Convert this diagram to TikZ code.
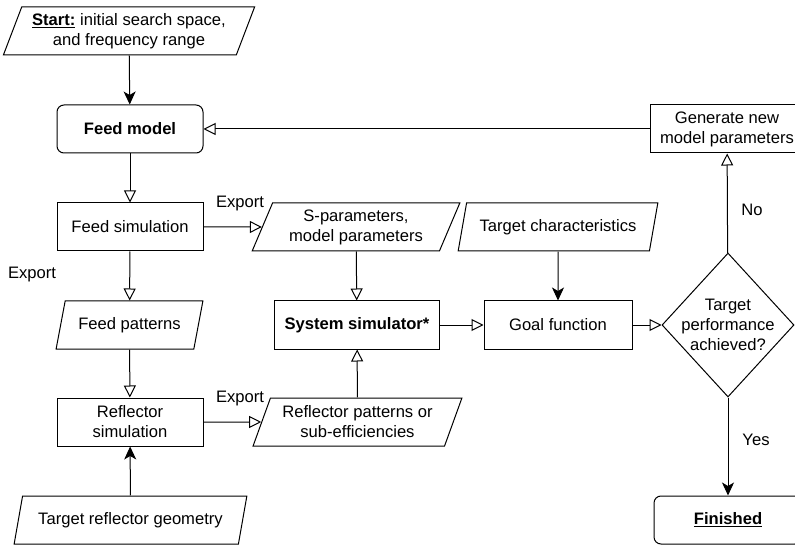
\documentclass[tikz,border=0pt]{standalone}
\usepackage{fontspec}
\setmainfont{Liberation Sans}
\usetikzlibrary{arrows.meta,shapes.geometric}
\tikzset{
  every node/.style={font=\fontsize{16.6}{20}\selectfont, align=center, inner sep=0pt},
  box/.style={draw, line width=1pt, minimum height=48pt},
  rbox/.style={box, rounded corners=7pt},
  io/.style={draw, line width=1pt, trapezium, trapezium left angle=65, trapezium right angle=115, trapezium stretches=true, minimum height=48pt},
  lbl/.style={font=\fontsize{16.6}{20}\selectfont},
  conn/.style={line width=1pt},
  openar/.style={conn, -{Triangle[open, fill=white, length=12pt, width=12pt]}},
  fillar/.style={conn, -{Stealth[length=13pt, width=12pt, inset=3.5pt]}},
}
\begin{document}
\begin{tikzpicture}[x=1pt, y=-1pt]
\useasboundingbox (0,0) rectangle (795,545);
\node[io, minimum width=252pt] (start) at (129,31) {\underline{\textbf{Start:}} initial search space,\\and frequency range};
\node[rbox, minimum width=146pt] (feedmodel) at (130,129) {\textbf{Feed model}};
\node[box, minimum width=154pt] (gen) at (727,129) {Generate new\\model parameters};
\node[box, minimum width=146pt] (feedsim) at (130,227) {Feed simulation};
\node[io, minimum width=208pt] (spar) at (356,227) {S-parameters,\\model parameters};
\node[io, minimum width=200pt] (tchar) at (558,227) {Target characteristics};
\node[io, minimum width=147pt] (fpat) at (129.5,325) {Feed patterns};
\node[box, minimum width=165pt] (sys) at (357,325) {\textbf{System simulator*}};
\node[box, minimum width=148pt] (goal) at (558,325) {Goal function};
\node[draw, line width=1pt, diamond, minimum width=132pt, minimum height=144pt] (dec) at (728,325) {};
\node (dectext) at (728,325) {Target\\performance\\achieved?};
\node[box, minimum width=146pt] (refsim) at (130,422) {Reflector\\simulation};
\node[io, minimum width=209pt] (rpat) at (357.5,422) {Reflector patterns or\\sub-efficiencies};
\node[io, minimum width=233pt] (tgeo) at (130.5,520) {Target reflector geometry};
\node[rbox, minimum width=148pt] (fin) at (728,520) {\underline{\textbf{Finished}}};

\draw[fillar] (start) -- (feedmodel);
\draw[openar] (gen) -- (feedmodel);
\draw[openar] (feedmodel) -- (feedsim);
\draw[openar] (feedsim) -- (spar);
\node[lbl] (exp1) at (240,204) {Export};
\draw[openar] (feedsim) -- (fpat);
\node[lbl] (exp2) at (32,275) {Export};
\draw[openar] (spar) -- (sys);
\draw[fillar] (tchar) -- (goal);
\draw[openar] (sys) -- (goal);
\draw[openar] (goal) -- (dec);
\draw[openar] (dec) -- (gen);
\node[lbl] (no) at (752,210) {No};
\draw[fillar] (dec) -- (fin);
\node[lbl] (yes) at (756,440) {Yes};
\draw[openar] (fpat) -- (refsim);
\draw[openar] (refsim) -- (rpat);
\node[lbl] (exp3) at (240,399) {Export};
\draw[openar] (rpat) -- (sys);
\draw[fillar] (tgeo) -- (refsim);
\end{tikzpicture}
\end{document}
